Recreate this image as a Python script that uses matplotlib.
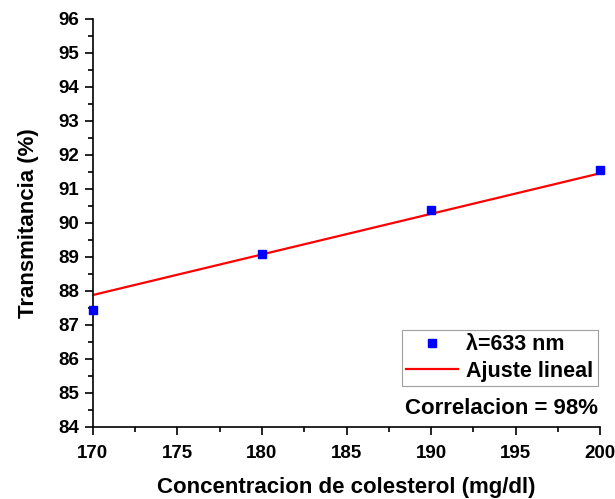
import matplotlib
matplotlib.use("Agg")
import matplotlib.pyplot as plt
from matplotlib.ticker import MultipleLocator

# datos medidos
concentracion = [170, 180, 190, 200]
transmitancia = [87.44, 89.09, 90.39, 91.56]

# ajuste lineal (extremos de la recta)
ajuste_x = [170, 200]
ajuste_y = [87.88, 91.46]

plt.rcParams['font.family'] = ['Liberation Sans', 'DejaVu Sans']
plt.rcParams['font.weight'] = 'bold'

fig = plt.figure(figsize=(6.15, 4.99), dpi=100)
ax = fig.add_axes([0.151, 0.1443, 0.825, 0.818])

ax.plot(ajuste_x, ajuste_y, color="red", lw=1.6, label="Ajuste lineal", zorder=2)
ax.plot(concentracion, transmitancia, ls="none", marker="s", ms=6, color="blue",
        label="λ=633 nm", clip_on=False, zorder=3)

ax.set_xlim(170, 200)
ax.set_ylim(84, 96)
ax.xaxis.set_major_locator(MultipleLocator(5))
ax.xaxis.set_minor_locator(MultipleLocator(2.5))
ax.yaxis.set_major_locator(MultipleLocator(1))
ax.yaxis.set_minor_locator(MultipleLocator(0.5))
ax.tick_params(which="major", direction="out", length=6, width=1.2, labelsize=13.5)
ax.tick_params(axis="x", which="major", pad=7)
ax.tick_params(axis="y", which="major", pad=4)
ax.tick_params(which="minor", direction="out", length=3.5, width=1.2)
for lab in ax.get_xticklabels() + ax.get_yticklabels():
    lab.set_fontweight("bold")

ax.spines["top"].set_visible(False)
ax.spines["right"].set_visible(False)
ax.spines["left"].set_linewidth(1.2)
ax.spines["bottom"].set_linewidth(1.2)

ax.set_xlabel("Concentracion de colesterol (mg/dl)", fontsize=16, fontweight="bold", labelpad=11)
ax.set_ylabel("Transmitancia (%)", fontsize=16, fontweight="bold", labelpad=14)

leg = ax.legend(handles=[ax.lines[1], ax.lines[0]], loc="lower right",
                bbox_to_anchor=(0.995, 0.1), fontsize=15.5, frameon=True, fancybox=False,
                handlelength=2.4, borderpad=0.2, labelspacing=0.25, handletextpad=0.4,
                borderaxespad=0)
leg.get_frame().set_edgecolor("#888888")
leg.get_frame().set_linewidth(0.8)
for t in leg.get_texts():
    t.set_fontweight("bold")

ax.text(0.995, 0.045, "Correlacion = 98%", transform=ax.transAxes, ha="right",
        va="center", fontsize=16, fontweight="bold")

fig.savefig("out.png", dpi=100)
